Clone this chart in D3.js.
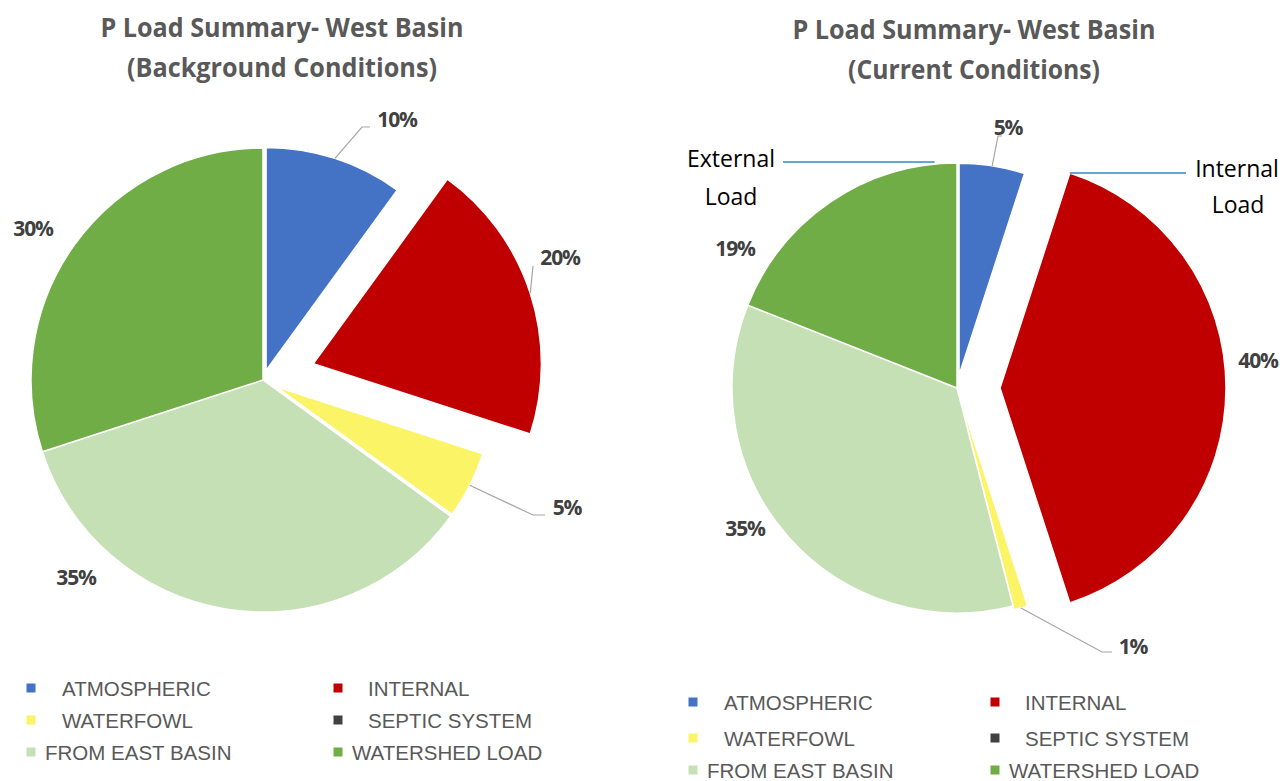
<!DOCTYPE html>
<html>
<head>
<meta charset="utf-8">
<script src="https://cdn.jsdelivr.net/npm/d3@7"></script>
<style>
  html, body { margin: 0; padding: 0; background: #fff; }
  svg { display: block; }
</style>
</head>
<body>
<svg id="chart" width="1286" height="781"></svg>
<script>
// ---------- DATA ----------
const categories = ["ATMOSPHERIC", "INTERNAL", "WATERFOWL", "SEPTIC SYSTEM", "FROM EAST BASIN", "WATERSHED LOAD"];
const backgroundValues = [10, 20, 5, 0, 35, 30];
const currentValues = [5, 40, 1, 0, 35, 19];
const titleLine1 = "P Load Summary- West Basin";
const backgroundSubtitle = "(Background Conditions)";
const currentSubtitle = "(Current Conditions)";
const sliceColors = ["#4472c4", "#c00000", "#fbf466", "#404040", "#c5e0b4", "#70ad47"];

// ---------- LAYOUT ----------
const charts = [
  {
    values: backgroundValues, subtitle: backgroundSubtitle,
    cx: 263, cy: 380, r: 232, titleX: 282, titleY: [37, 77], titleW: [363, 310],
    explode: [10, 53, 15, 0, 0, 0], radiusAdj: [-9, -4, -15, 0, 0, 0],
    labels: [
      { dx: 134, dy: -261, leader: [[99, -253], [107, -253]] },
      { dx: 297, dy: -123, leader: [[270, -114]] },
      { dx: 304, dy: 127, leader: [[270, 135], [282, 135]] },
      null,
      { dx: -187, dy: 197 },
      { dx: -230, dy: -152 }
    ],
    legend: { x: [31, 338], y: [688, 720, 752] }
  },
  {
    values: currentValues, subtitle: currentSubtitle,
    cx: 957, cy: 388, r: 225, titleX: 974, titleY: [39, 79], titleW: [363, 252],
    explode: [13, 43, 6, 0, 0, 0], radiusAdj: [-13, 1, -2, 0, 0, 0],
    labels: [
      { dx: 51, dy: -261, leader: [[41, -252], [45, -252]] },
      { dx: 301, dy: -28 },
      { dx: 176, dy: 258, leader: [[145, 264], [155, 264]] },
      null,
      { dx: -212, dy: 140 },
      { dx: -222, dy: -140 }
    ],
    legend: { x: [693, 995], y: [702, 738, 770] }
  }
];
const legendIndent = [31, 30, 31, 30, 14, 14];

const svg = d3.select("#chart");
const pie = d3.pie().sort(null).value(d => d).startAngle(0).endAngle(2 * Math.PI);

charts.forEach(cfg => {
  const g = svg.append("g");
  // titles
  [titleLine1, cfg.subtitle].forEach((t, i) => {
    g.append("text")
      .attr("x", cfg.titleX).attr("y", cfg.titleY[i])
      .attr("text-anchor", "middle")
      .attr("font-family", "'Open Sans', sans-serif")
      .attr("font-weight", "bold")
      .attr("font-size", 27)
      .attr("fill", "#595959")
      .attr("textLength", cfg.titleW[i])
      .attr("lengthAdjust", "spacingAndGlyphs")
      .text(t);
  });

  const arcs = pie(cfg.values);
  const pg = g.append("g").attr("transform", `translate(${cfg.cx},${cfg.cy})`);
  arcs.forEach((a, i) => {
    if (a.value === 0) return;
    const mid = (a.startAngle + a.endAngle) / 2;
    const off = cfg.explode[i];
    const ox = off * Math.sin(mid), oy = -off * Math.cos(mid);
    const rr = cfg.r + cfg.radiusAdj[i];
    a.ox = ox; a.oy = oy; a.rr = rr; a.mid = mid;
    pg.append("path")
      .attr("transform", `translate(${ox},${oy})`)
      .attr("d", d3.arc().innerRadius(0).outerRadius(rr)(a))
      .attr("fill", sliceColors[i])
      .attr("stroke", "#fff")
      .attr("stroke-width", 1.5)
      .attr("stroke-linejoin", "round");
  });

  // data labels + leaders
  arcs.forEach((a, i) => {
    const L = cfg.labels[i];
    if (!L || a.value === 0) return;
    if (L.leader) {
      const start = [a.ox + a.rr * Math.sin(a.mid), a.oy - a.rr * Math.cos(a.mid)];
      const pts = [start].concat(L.leader);
      pg.append("path")
        .attr("d", d3.line()(pts))
        .attr("fill", "none")
        .attr("stroke", "#a6a6a6")
        .attr("stroke-width", 1.2);
    }
    const txt = d3.format(".0f")(a.value) + "%";
    pg.append("text")
      .attr("x", L.dx).attr("y", L.dy)
      .attr("text-anchor", "middle")
      .attr("dominant-baseline", "central")
      .attr("font-family", "'Open Sans', sans-serif")
      .attr("font-weight", "bold")
      .attr("font-size", 21)
      .attr("letter-spacing", -1.2)
      .attr("fill", "#404040")
      .text(txt);
  });

  // legend
  categories.forEach((c, i) => {
    const col = i % 2, row = Math.floor(i / 2);
    const x = cfg.legend.x[col], y = cfg.legend.y[row];
    g.append("rect")
      .attr("x", x - 4.5).attr("y", y - 4.5)
      .attr("width", 9).attr("height", 9)
      .attr("fill", sliceColors[i]);
    g.append("text")
      .attr("x", x + legendIndent[i]).attr("y", y)
      .attr("dominant-baseline", "central")
      .attr("font-family", "'Liberation Sans', Arial, sans-serif")
      .attr("font-size", 20.5)
      .attr("fill", "#595959")
      .text(c);
  });
});

// annotations on current-conditions chart
const cur = charts[1];
const curArcs = pie(cur.values);
const red = curArcs[1];
const redMid = (red.startAngle + red.endAngle) / 2;
const redR = cur.r + cur.radiusAdj[1];
const redTop = [cur.cx + cur.explode[1] * Math.sin(redMid) + redR * Math.sin(red.startAngle),
                cur.cy - cur.explode[1] * Math.cos(redMid) - redR * Math.cos(red.startAngle)];
const extEnd = [cur.cx - cur.r * Math.sin(0.1), cur.cy - cur.r * Math.cos(0.1) - 2];
const ann = svg.append("g");
ann.append("line").attr("x1", 783).attr("y1", extEnd[1]).attr("x2", extEnd[0]).attr("y2", extEnd[1])
  .attr("stroke", "#2e8bc6").attr("stroke-width", 1.5);
ann.append("line").attr("x1", redTop[0]).attr("y1", redTop[1]).attr("x2", 1186).attr("y2", redTop[1])
  .attr("stroke", "#2e8bc6").attr("stroke-width", 1.5);
const annFont = t => t.attr("font-family", "'Open Sans', sans-serif").attr("font-size", 23)
  .attr("fill", "#000").attr("text-anchor", "middle").attr("dominant-baseline", "central");
annFont(ann.append("text").attr("x", 731).attr("y", 158).text("External"));
annFont(ann.append("text").attr("x", 731).attr("y", 196).text("Load"));
annFont(ann.append("text").attr("x", 1237).attr("y", 168).text("Internal"));
annFont(ann.append("text").attr("x", 1238).attr("y", 204).text("Load"));
</script>
</body>
</html>
